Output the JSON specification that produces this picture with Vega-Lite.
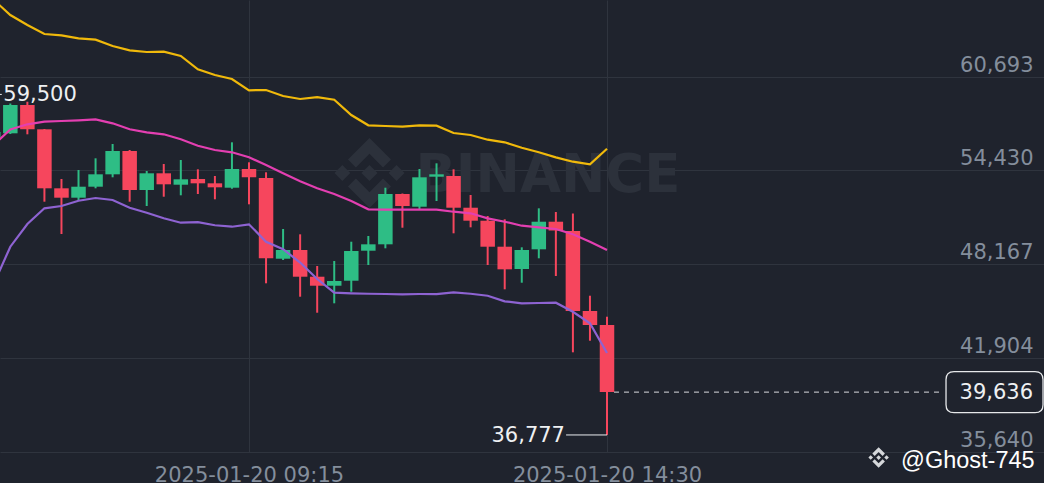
{
  "$schema": "https://vega.github.io/schema/vega-lite/v6.json",
  "width": 1044,
  "height": 452,
  "autosize": {"type": "none"},
  "padding": {"left": 0, "top": 0, "right": 0, "bottom": 31},
  "background": "#1f232d",
  "config": {"view": {"stroke": null}},
  "datasets": {
    "candles": [
      {"t": "2025-01-20 05:30", "o": 56658, "h": 59500, "l": 56324, "c": 56992, "up": 65833, "mid": 56124, "lo": 46782},
      {"t": "2025-01-20 05:45", "o": 56905, "h": 58893, "l": 56858, "c": 58793, "up": 64799, "mid": 57158, "lo": 49338},
      {"t": "2025-01-20 06:00", "o": 58793, "h": 59013, "l": 56838, "c": 57172, "up": 64132, "mid": 57505, "lo": 50853},
      {"t": "2025-01-20 06:15", "o": 57172, "h": 57192, "l": 52341, "c": 53235, "up": 63531, "mid": 57679, "lo": 51901},
      {"t": "2025-01-20 06:30", "o": 53235, "h": 53855, "l": 50185, "c": 52608, "up": 63444, "mid": 57726, "lo": 52054},
      {"t": "2025-01-20 06:45", "o": 52608, "h": 54456, "l": 52454, "c": 53342, "up": 63244, "mid": 57772, "lo": 52407},
      {"t": "2025-01-20 07:00", "o": 53342, "h": 55237, "l": 53235, "c": 54169, "up": 63151, "mid": 57839, "lo": 52587},
      {"t": "2025-01-20 07:15", "o": 54169, "h": 56191, "l": 53969, "c": 55724, "up": 62730, "mid": 57572, "lo": 52454},
      {"t": "2025-01-20 07:30", "o": 55724, "h": 55791, "l": 52341, "c": 53121, "up": 62443, "mid": 57178, "lo": 51940},
      {"t": "2025-01-20 07:45", "o": 53121, "h": 54389, "l": 52054, "c": 54236, "up": 62330, "mid": 56972, "lo": 51606},
      {"t": "2025-01-20 08:00", "o": 54236, "h": 54856, "l": 52674, "c": 53502, "up": 62350, "mid": 56838, "lo": 51233},
      {"t": "2025-01-20 08:15", "o": 53475, "h": 55123, "l": 52768, "c": 53835, "up": 62063, "mid": 56505, "lo": 50939},
      {"t": "2025-01-20 08:30", "o": 53855, "h": 54503, "l": 52855, "c": 53568, "up": 61176, "mid": 56078, "lo": 50972},
      {"t": "2025-01-20 08:45", "o": 53568, "h": 54056, "l": 52501, "c": 53301, "up": 60795, "mid": 55790, "lo": 50772},
      {"t": "2025-01-20 09:00", "o": 53275, "h": 56304, "l": 53208, "c": 54523, "up": 60528, "mid": 55637, "lo": 50672},
      {"t": "2025-01-20 09:15", "o": 54523, "h": 54970, "l": 52167, "c": 53969, "up": 59774, "mid": 55303, "lo": 50832},
      {"t": "2025-01-20 09:30", "o": 53922, "h": 54303, "l": 46896, "c": 48564, "up": 59794, "mid": 54790, "lo": 49671},
      {"t": "2025-01-20 09:45", "o": 48537, "h": 50519, "l": 48450, "c": 49118, "up": 59394, "mid": 54235, "lo": 49171},
      {"t": "2025-01-20 10:00", "o": 49118, "h": 50165, "l": 46001, "c": 47336, "up": 59194, "mid": 53709, "lo": 48284},
      {"t": "2025-01-20 10:15", "o": 47336, "h": 48050, "l": 44934, "c": 46735, "up": 59314, "mid": 53235, "lo": 47183},
      {"t": "2025-01-20 10:30", "o": 46735, "h": 48384, "l": 45561, "c": 47049, "up": 59147, "mid": 52854, "lo": 46268},
      {"t": "2025-01-20 10:45", "o": 47069, "h": 49672, "l": 46335, "c": 49051, "up": 58126, "mid": 52387, "lo": 46228},
      {"t": "2025-01-20 11:00", "o": 49071, "h": 50052, "l": 48116, "c": 49498, "up": 57439, "mid": 51833, "lo": 46201},
      {"t": "2025-01-20 11:15", "o": 49498, "h": 53275, "l": 49231, "c": 52854, "up": 57392, "mid": 51807, "lo": 46181},
      {"t": "2025-01-20 11:30", "o": 52854, "h": 52888, "l": 50605, "c": 52054, "up": 57345, "mid": 51807, "lo": 46161},
      {"t": "2025-01-20 11:45", "o": 52007, "h": 54523, "l": 51854, "c": 53969, "up": 57439, "mid": 51807, "lo": 46181},
      {"t": "2025-01-20 12:00", "o": 54009, "h": 54903, "l": 52387, "c": 54169, "up": 57412, "mid": 51807, "lo": 46181},
      {"t": "2025-01-20 12:15", "o": 54056, "h": 54503, "l": 50232, "c": 51940, "up": 56925, "mid": 51673, "lo": 46295},
      {"t": "2025-01-20 12:30", "o": 51940, "h": 52788, "l": 50632, "c": 51073, "up": 56791, "mid": 51567, "lo": 46201},
      {"t": "2025-01-20 12:45", "o": 51073, "h": 51386, "l": 48116, "c": 49338, "up": 56478, "mid": 51233, "lo": 46068},
      {"t": "2025-01-20 13:00", "o": 49338, "h": 51166, "l": 46495, "c": 47829, "up": 56304, "mid": 51006, "lo": 45694},
      {"t": "2025-01-20 13:15", "o": 47849, "h": 49298, "l": 46936, "c": 49118, "up": 55944, "mid": 50739, "lo": 45561},
      {"t": "2025-01-20 13:30", "o": 49164, "h": 51900, "l": 48564, "c": 51006, "up": 55637, "mid": 50632, "lo": 45581},
      {"t": "2025-01-20 13:45", "o": 51006, "h": 51653, "l": 47383, "c": 50419, "up": 55303, "mid": 50519, "lo": 45601},
      {"t": "2025-01-20 14:00", "o": 50385, "h": 51553, "l": 42291, "c": 45047, "up": 55010, "mid": 50165, "lo": 45000},
      {"t": "2025-01-20 14:15", "o": 45047, "h": 46068, "l": 43065, "c": 44113, "up": 54836, "mid": 49672, "lo": 44226},
      {"t": "2025-01-20 14:30", "o": 44113, "h": 44667, "l": 36777, "c": 39636, "up": 55877, "mid": 49117, "lo": 42244}
    ],
    "lines": [
      {"kind": "high", "t": "2025-01-20 05:30", "t2": "2025-01-20 05:37:30", "p": 59500},
      {"kind": "low", "t": "2025-01-20 13:54", "t2": "2025-01-20 14:30", "p": 36777}
    ],
    "leftLabels": [
      {"txt": "59,500", "t": "2025-01-20 05:38:50", "p": 59500}
    ],
    "rightLabels": [
      {"txt": "36,777", "t": "2025-01-20 13:53:02", "p": 36777},
      {"txt": "39,636", "t": "2025-01-20 20:44:50", "p": 39636}
    ]
  },
  "layer": [
    {
      "data": {"values": [{"txt": "BINANCE", "t": "2025-01-20 13:38", "p": 52990}]},
      "mark": {"type": "text", "font": "DejaVu Sans", "fontWeight": "bold", "fontSize": 53, "align": "center", "baseline": "alphabetic", "color": "#2c313b"},
      "encoding": {
        "x": {"field": "t", "type": "temporal", "title": null,
          "scale": {"domain": ["2025-01-20 05:35:55", "2025-01-20 20:54:30"], "nice": false, "padding": 0},
          "axis": {"values": [{"year": 2025, "month": 1, "date": 20, "hours": 9, "minutes": 15}, {"year": 2025, "month": 1, "date": 20, "hours": 14, "minutes": 30}], "format": "%Y-%m-%d %H:%M", "grid": true, "gridColor": "#2f343e", "gridWidth": 1, "domain": false, "ticks": false, "labelFont": "DejaVu Sans", "labelFontSize": 21, "labelColor": "#848e9c", "labelBaseline": "alphabetic", "labelPadding": 29, "labelFlush": false, "labelOverlap": false, "labelLimit": 0, "title": null}},
        "y": {"field": "p", "type": "quantitative", "title": null,
          "scale": {"domain": [35640, 65800], "zero": false, "nice": false, "padding": 0},
          "axis": {"orient": "right", "values": [35640, 41904, 48167, 54430, 60693], "format": ",d", "grid": true, "gridColor": "#2f343e", "gridWidth": 1, "domain": false, "ticks": false, "labelFont": "DejaVu Sans", "labelFontSize": 21, "labelColor": "#848e9c", "labelAlign": "right", "labelBaseline": "alphabetic", "labelOffset": -5.5, "labelPadding": -11, "labelOverlap": false, "labelLimit": 0, "title": null}},
        "text": {"field": "txt"}
      }
    },
    {
      "data": {"values": [{"t": "2025-01-20 11:01", "p": 54256}]},
      "mark": {"type": "point", "filled": true, "size": 4900, "color": "#2c313b", "opacity": 1, "shape": "M-0.388,-0.16L0,-0.548L0.388,-0.16L0.614,-0.385L0,-1L-0.614,-0.386Z M-1,0L-0.774,-0.226L-0.548,0L-0.774,0.226Z M-0.388,0.16L0,0.548L0.388,0.16L0.614,0.385L0,1L-0.614,0.386Z M0.548,0L0.774,-0.226L1,0L0.774,0.226Z M0.23,0L0,-0.23L-0.23,0L0,0.23Z"},
      "encoding": {
        "x": {"field": "t", "type": "temporal", "title": null},
        "y": {"field": "p", "type": "quantitative", "title": null}
      }
    },
    {
      "data": {"name": "candles"},
      "mark": {"type": "rule", "strokeWidth": 2, "clip": true},
      "encoding": {
        "x": {"field": "t", "type": "temporal", "title": null},
        "y": {"field": "l", "type": "quantitative", "title": null},
        "y2": {"field": "h"},
        "color": {"condition": {"test": "datum.c >= datum.o", "value": "#2ebd85"}, "value": "#f6465d"}
      }
    },
    {
      "data": {"name": "candles"},
      "mark": {"type": "bar", "width": 14.5, "clip": true},
      "encoding": {
        "x": {"field": "t", "type": "temporal", "title": null},
        "y": {"field": "o", "type": "quantitative", "title": null},
        "y2": {"field": "c"},
        "color": {"condition": {"test": "datum.c >= datum.o", "value": "#2ebd85"}, "value": "#f6465d"}
      }
    },
    {
      "data": {"name": "candles"},
      "mark": {"type": "line", "strokeWidth": 2.2, "color": "#f0b90b", "clip": true},
      "encoding": {
        "x": {"field": "t", "type": "temporal", "title": null},
        "y": {"field": "up", "type": "quantitative", "title": null}
      }
    },
    {
      "data": {"name": "candles"},
      "mark": {"type": "line", "strokeWidth": 2.2, "color": "#e33fb1", "clip": true},
      "encoding": {
        "x": {"field": "t", "type": "temporal", "title": null},
        "y": {"field": "mid", "type": "quantitative", "title": null}
      }
    },
    {
      "data": {"name": "candles"},
      "mark": {"type": "line", "strokeWidth": 2.2, "color": "#8e63d2", "clip": true},
      "encoding": {
        "x": {"field": "t", "type": "temporal", "title": null},
        "y": {"field": "lo", "type": "quantitative", "title": null}
      }
    },
    {
      "data": {"name": "lines"},
      "mark": {"type": "rule", "strokeWidth": 1, "color": "#eaecef", "clip": true},
      "encoding": {
        "x": {"field": "t", "type": "temporal", "title": null},
        "x2": {"field": "t2"},
        "y": {"field": "p", "type": "quantitative", "title": null}
      }
    },
    {
      "data": {"values": [{"t": "2025-01-20 14:36:10", "t2": "2025-01-20 19:26:30", "p": 39636}]},
      "mark": {"type": "rule", "strokeWidth": 1, "color": "#d9dce1", "strokeDash": [5, 5]},
      "encoding": {
        "x": {"field": "t", "type": "temporal", "title": null},
        "x2": {"field": "t2"},
        "y": {"field": "p", "type": "quantitative", "title": null}
      }
    },
    {
      "data": {"values": [{"t": "2025-01-20 20:10:58", "p": 39636}]},
      "mark": {"type": "point", "filled": false, "size": 9409, "stroke": "#e6e8ea", "strokeWidth": 1.3, "fill": "#1f232d", "fillOpacity": 1, "opacity": 1, "shape": "M-0.835,-0.423L0.835,-0.423Q1,-0.423 1,-0.258L1,0.258Q1,0.423 0.835,0.423L-0.835,0.423Q-1,0.423 -1,0.258L-1,-0.258Q-1,-0.423 -0.835,-0.423Z"},
      "encoding": {
        "x": {"field": "t", "type": "temporal", "title": null},
        "y": {"field": "p", "type": "quantitative", "title": null}
      }
    },
    {
      "data": {"name": "leftLabels"},
      "mark": {"type": "text", "font": "DejaVu Sans", "fontSize": 21, "align": "left", "baseline": "middle", "color": "#eef0f2", "dy": 1},
      "encoding": {
        "x": {"field": "t", "type": "temporal", "title": null},
        "y": {"field": "p", "type": "quantitative", "title": null},
        "text": {"field": "txt"}
      }
    },
    {
      "data": {"name": "rightLabels"},
      "mark": {"type": "text", "font": "DejaVu Sans", "fontSize": 21, "align": "right", "baseline": "middle", "color": "#eef0f2", "dy": 1},
      "encoding": {
        "x": {"field": "t", "type": "temporal", "title": null},
        "y": {"field": "p", "type": "quantitative", "title": null},
        "text": {"field": "txt"}
      }
    },
    {
      "data": {"values": [{"t": "2025-01-20 18:29", "p": 35271}]},
      "mark": {"type": "point", "filled": true, "size": 420, "color": "#d5d7da", "opacity": 1, "shape": "M-0.388,-0.16L0,-0.548L0.388,-0.16L0.614,-0.385L0,-1L-0.614,-0.386Z M-1,0L-0.774,-0.226L-0.548,0L-0.774,0.226Z M-0.388,0.16L0,0.548L0.388,0.16L0.614,0.385L0,1L-0.614,0.386Z M0.548,0L0.774,-0.226L1,0L0.774,0.226Z M0.23,0L0,-0.23L-0.23,0L0,0.23Z"},
      "encoding": {
        "x": {"field": "t", "type": "temporal", "title": null},
        "y": {"field": "p", "type": "quantitative", "title": null}
      }
    },
    {
      "data": {"values": [{"txt": "@Ghost-745", "t": "2025-01-20 18:48:42", "p": 34550}]},
      "mark": {"type": "text", "font": "Liberation Sans", "fontSize": 23.5, "align": "left", "baseline": "alphabetic", "color": "#ffffff"},
      "encoding": {
        "x": {"field": "t", "type": "temporal", "title": null},
        "y": {"field": "p", "type": "quantitative", "title": null},
        "text": {"field": "txt"}
      }
    }
  ]
}
